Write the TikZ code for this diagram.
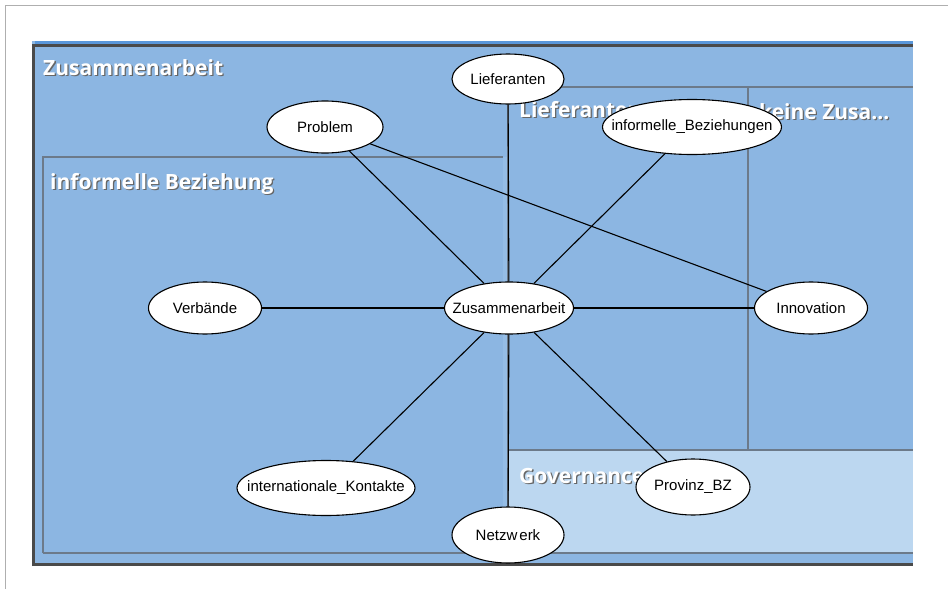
\documentclass[tikz,border=0pt]{standalone}
\usepackage{fontspec}
\setmainfont{Liberation Sans}
\newfontfamily\panelfont{Open Sans}
\usetikzlibrary{shapes.geometric}
\definecolor{panelblue}{HTML}{8CB6E2}
\definecolor{panellight}{HTML}{95BDE6}
\definecolor{stripblue}{HTML}{5A97DA}
\definecolor{edgedark}{HTML}{4A4A4A}
\definecolor{divider}{HTML}{6C7A8A}
\definecolor{govblue}{HTML}{BCD7F0}
\definecolor{framegray}{HTML}{AFAFAF}
% white caption with a soft dark drop shadow
\newcommand{\shadowed}[1]{\rlap{\kern1.3pt\raisebox{-1.3pt}{\color{black!60}#1}}#1}

\begin{document}
\begin{tikzpicture}[x=1pt,y=-1pt,
  bub/.style={ellipse, draw=black, line width=1.1pt, fill=white,
    minimum width=#1, minimum height=52pt, inner sep=0pt,
    font=\fontsize{15}{17}\selectfont},
  bub/.default=113,
  link/.style={draw=black, line width=1.1pt},
  area/.style={draw=divider, line width=1.3pt},
  arealabel/.style={anchor=base west, inner sep=0pt, text=white,
    font=\panelfont\bfseries\fontsize{21}{25}\selectfont}]
\useasboundingbox (0,0) rectangle (948,589);

% outer frame
\draw[framegray, line width=1pt] (5,589) -- (5,5) -- (948,5);

% panel background
\fill[panelblue] (32,41) rectangle (913,566);
\fill[stripblue] (35,41) rectangle (913,44);
\draw[edgedark, line width=3pt] (33.5,566) -- (33.5,45.5) -- (913,45.5);
\draw[edgedark, line width=3pt] (33.5,564) -- (913,564);

% inner areas
\fill[panellight] (503,157) rectangle (508,553);
\fill[govblue] (508,450) rectangle (913,553);
\draw[area] (43,553) -- (43,157) -- (503,157);
\draw[area] (508,553) -- (508,87) -- (913,87);
\draw[area] (748,87) -- (748,450);
\draw[area] (508,450) -- (913,450);
\draw[area] (43,553) -- (913,553);

% area captions
\node[arealabel] (lblzus) at (43,75) {\shadowed{Zusammenarbeit}};
\node[arealabel] (lblinf) at (50,189) {\shadowed{informelle Beziehung}};
\node[arealabel] (lbllief) at (519,117) {\shadowed{Lieferanten}};
\node[arealabel] (lblkeine) at (759,119) {\shadowed{keine Zusa...}};
\node[arealabel] (lblgov) at (519,483) {\shadowed{Governance}};

% concept nodes
\node[bub=129] (zus) at (509,308) {\makebox[0pt]{Zusammenarbeit}};
\node[bub=112, minimum height=50pt] (lief) at (508,79) {\makebox[0pt]{Lieferanten}};
\node[bub=116] (prob) at (325,127) {\makebox[0pt]{Problem}};
\node[bub=179, minimum height=55pt] (infb) at (692,127) {\makebox[0pt]{informelle\_Beziehungen}};
\node[bub] (verb) at (205,308) {\makebox[0pt]{Verbände}};
\node[bub] (inno) at (811,308) {\makebox[0pt]{Innovation}};
\node[bub=178, minimum height=55pt] (intk) at (326,488) {\makebox[0pt]{internationale\_Kontakte}};
\node[bub=114, minimum height=56pt] (prov) at (693,487) {\makebox[0pt]{Provinz\_BZ}};
\node[bub=112, minimum height=56pt] (netz) at (508,535) {\makebox[0pt]{Netzw\kern2pt erk}};

% connections
\draw[link] (zus) -- (lief);
\draw[link] (zus) -- (prob);
\draw[link] (zus) -- (infb);
\draw[link] (zus) -- (verb);
\draw[link] (zus) -- (inno);
\draw[link] (zus) -- (intk);
\draw[link] (zus) -- (prov);
\draw[link] (zus) -- (netz);
\draw[link] (prob) -- (inno);
\end{tikzpicture}
\end{document}
